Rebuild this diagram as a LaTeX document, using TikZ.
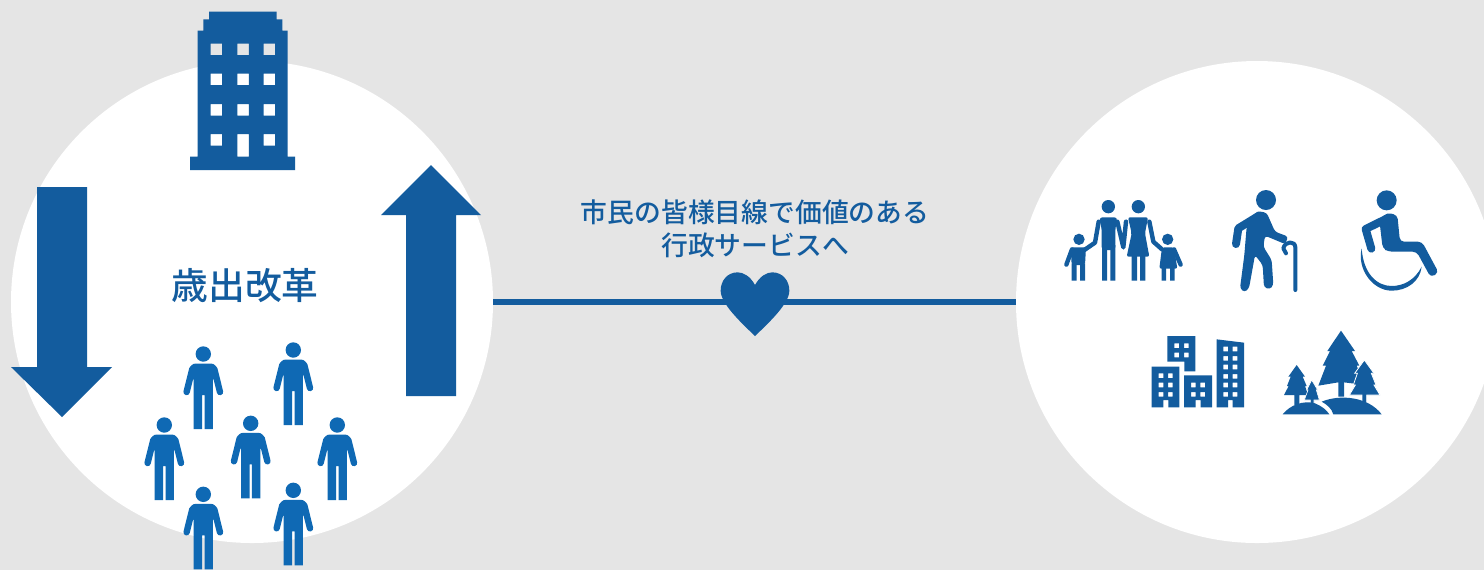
\documentclass[tikz,border=0pt]{standalone}
\usepackage{fontspec}
\usetikzlibrary{calc}
\newfontfamily\jpfont{Noto Sans CJK JP Medium}
\definecolor{haikei}{HTML}{E5E5E5}
\definecolor{kihon}{HTML}{135C9E}
\definecolor{hito}{HTML}{0F69B4}
\tikzset{
    maru/.style = {circle, fill = white, minimum size = 241pt, inner sep = 0pt},
    moji/.style = {text = kihon, align = center, inner sep = 0pt},
    ude/.style = {line width = #1, line cap = round, line join = round, draw = kihon},
    person/.pic = {
        \fill[hito] (0,0) circle (7.7);
        \fill[hito, rounded corners = 3pt] (-13.5,9.5) rectangle (13.5,26);
        \fill[hito] (-9.6,20) -- (9.6,20) -- (9.6,75) -- (1.2,75) -- (1.2,41) -- (-1.2,41) -- (-1.2,75) -- (-9.6,75) -- cycle;
        \draw[hito, line width = 3.2pt, line cap = round] (-11,15) -- (-16.7,38);
        \draw[hito, line width = 3.2pt, line cap = round] (11,15) -- (16.7,38);
    },
    heart/.pic = {
        \fill[kihon] (0,-153) .. controls (-15,-180) and (-35,-191) .. (-52,-191)
            .. controls (-83,-191) and (-103,-166) .. (-103,-136)
            .. controls (-103,-98) and (-45,-43) .. (0,0)
            .. controls (45,-43) and (103,-98) .. (103,-136)
            .. controls (103,-166) and (83,-191) .. (52,-191)
            .. controls (35,-191) and (15,-180) .. (0,-153) -- cycle;
    }
}

\begin{document}
\begin{tikzpicture}[x = 0.5pt, y = -0.5pt]
    \fill[haikei] (0,0) rectangle (1484,570);
    \useasboundingbox (0,0) rectangle (1484,570);

    \node[maru] (kaikaku) at (252,302) {};
    \node[maru] (shimin) at (1257,302) {};
    \draw[kihon, line width = 3pt] (kaikaku) -- (shimin);

    \fill[kihon] (37,187) -- (87,187) -- (87,367) -- (112,367) -- (62,417) -- (11,367) -- (37,367) -- cycle;
    \fill[kihon] (406,396) -- (456,396) -- (456,215) -- (481,215) -- (431,165) -- (381,215) -- (406,215) -- cycle;

    \node[moji, font = \jpfont\fontsize{18.4}{22}\selectfont] (saishutsu) at (245,286) {歳出改革};
    \node[moji, font = \jpfont\fontsize{13.4}{16.5}\selectfont] (kachi) at (755,229) {市民の皆様目線で価値のある\\行政サービスへ};

    \pic at (755,336) [scale = 1/3] {heart};

    \fill[kihon, even odd rule] (209,11.7) -- (276.7,11.7) -- (276.7,19.3) -- (282.3,19.3) -- (282.3,30.7) -- (287.7,30.7)
        -- (287.7,156.7) -- (295,156.7) -- (295,170) -- (190,170) -- (190,156.7) -- (197.7,156.7) -- (197.7,30.7)
        -- (203.3,30.7) -- (203.3,19.3) -- (209,19.3) -- cycle
        \foreach \x/\y in {210.7/43.5, 237.3/43.5, 263.5/43.5, 210.7/73.5, 237.3/73.5, 263.5/73.5, 210.7/104, 237.3/104, 263.5/104, 210.7/134, 263.5/134} {
            (\x,\y) rectangle (\x+11.5,\y+11.5)
        }
        (237.3,134) rectangle (248.8,156.7);

    \foreach \x/\y in {203.3/354, 293.3/350, 164.3/425, 250.7/423.3, 337.3/425, 203.3/494.3, 293.3/490.3} {
        \pic at (\x,\y) {person};
    }

    \begin{scope}[shift = {(1040,170)}, scale = 1/3]
        % family
        \fill[kihon] (205,110) circle (20) (295,110) circle (20) (117,208) circle (17) (383,208) circle (17);
        \fill[kihon, rounded corners = 1.5pt] (178,142) -- (232,142) -- (226,178) -- (226,240) -- (185,240) -- (185,178) -- cycle;
        \fill[kihon] (186,225) rectangle (201,332) (211,225) rectangle (226,332);
        \fill[kihon, rounded corners = 1pt] (264,142) -- (324,142) -- (315,190) -- (328,260) -- (260,260) -- (275,190) -- cycle;
        \fill[kihon] (275,255) rectangle (291,332) (300,255) rectangle (316,332);
        \fill[kihon, rounded corners = 1pt] (92,232) -- (138,232) -- (135,285) -- (95,285) -- cycle;
        \fill[kihon] (95,280) rectangle (110,332) (120,280) rectangle (135,332);
        \fill[kihon, rounded corners = 1pt] (366,232) -- (402,232) -- (412,296) -- (358,296) -- cycle;
        \fill[kihon] (365,290) rectangle (378,332) (390,290) rectangle (404,332);
        \draw[ude = 2.2pt] (176,155) -- (165,218) -- (133,240);
        \draw[ude = 2.2pt] (232,155) -- (250,232) -- (258,155);
        \draw[ude = 2.2pt] (328,155) -- (340,215) -- (366,238);
        \draw[ude = 2.2pt] (96,238) -- (79,284);
        \draw[ude = 2.2pt] (402,238) -- (422,284);
        % old man
        \fill[kihon] (678,90) circle (30);
        \draw[ude = 4pt] (652,140) -- (595,175) -- (588,222);
        \fill[kihon, rounded corners = 1.5pt] (620,170) -- (650,123) -- (680,128) -- (705,185) -- (745,200) -- (735,222) -- (675,197) -- (670,230) -- (695,270) -- (700,345) -- (690,358) -- (672,352) -- (668,285) -- (645,255) -- (627,355) -- (613,367) -- (600,355) -- (613,255) -- cycle;
        \draw[ude = 2pt] (766,360) -- (766,232) .. controls (766,212) and (735,212) .. (730,235) -- (738,250);
        % wheelchair
        \fill[kihon] (1040,91) circle (30);
        \draw[ude = 4pt] (1040,146) -- (977,177) -- (994,236);
        \fill[kihon, rounded corners = 2pt] (1018,150) -- (1040,128) -- (1072,135) -- (1080,215) -- (1146,215) -- (1196,308) -- (1172,322) -- (1130,245) -- (1045,245) -- (1028,235) -- cycle;
        \fill[kihon] (965,235) .. controls (950,300) and (1000,362) .. (1055,362) .. controls (1100,362) and (1140,335) .. (1145,290)
            .. controls (1125,330) and (1090,348) .. (1055,348) .. controls (1010,348) and (970,310) .. (965,235) -- cycle;
        % town
        \fill[kihon, even odd rule] (382,498) -- (466,498) -- (466,604) -- (433,604) -- (433,575) -- (382,575) -- cycle
            \foreach \x in {403,432} {
                \foreach \y in {520,548} {
                    (\x,\y) rectangle (\x+14,\y+14)
                }
            };
        \fill[kihon, even odd rule] (335,590) -- (418,590) -- (418,712) -- (385,712) -- (385,690) -- (370,690) -- (370,712) -- (335,712) -- cycle
            \foreach \x in {356,384} {
                \foreach \y in {610,638,666} {
                    (\x,\y) rectangle (\x+14,\y+14)
                }
            };
        \fill[kihon, even odd rule] (432,616) -- (516,616) -- (516,712) -- (482,712) -- (482,690) -- (467,690) -- (467,712) -- (432,712) -- cycle
            \foreach \x in {453,481} {
                \foreach \y in {638,666} {
                    (\x,\y) rectangle (\x+14,\y+14)
                }
            };
        \fill[kihon, even odd rule] (530,508) -- (612,518) -- (612,712) -- (578,712) -- (578,690) -- (564,690) -- (564,712) -- (530,712) -- cycle
            \foreach \x in {550,578} {
                \foreach \y in {530,558,584,612,638,666} {
                    (\x,\y) rectangle (\x+14,\y+14)
                }
            };
        % forest
        \fill[kihon] (903,482) -- (945,543) -- (935,543) -- (958,587) -- (950,587) -- (975,645) -- (912,637) -- (912,680) -- (895,680) -- (895,637) -- (835,647) -- (858,587) -- (848,587) -- (870,543) -- (862,543) -- cycle;
        \fill[kihon, draw = white, line width = 0.4pt] (973,570) -- (1002,610) -- (994,610) -- (1008,645) -- (1002,645) -- (1020,675) -- (980,675) -- (980,700) -- (966,700) -- (966,675) -- (928,675) -- (946,645) -- (940,645) -- (952,610) -- (944,610) -- cycle;
        \fill[kihon] (770,585) -- (795,620) -- (788,620) -- (800,648) -- (795,648) -- (805,675) -- (778,675) -- (778,705) -- (763,705) -- (763,675) -- (732,675) -- (746,648) -- (741,648) -- (752,620) -- (745,620) -- cycle;
        \fill[kihon, draw = white, line width = 0.3pt] (815,630) -- (833,660) -- (829,660) -- (838,690) -- (822,690) -- (822,702) -- (811,702) -- (811,690) -- (793,690) -- (804,660) -- (800,660) -- cycle;
        \fill[kihon] (728,733) .. controls (750,705) and (790,690) .. (825,700) .. controls (845,708) and (860,720) .. (868,733) -- cycle;
        \fill[kihon] (845,695) .. controls (900,672) and (985,680) .. (1025,733) -- (880,733) .. controls (875,715) and (860,703) .. (845,695) -- cycle;
    \end{scope}
\end{tikzpicture}
\end{document}
